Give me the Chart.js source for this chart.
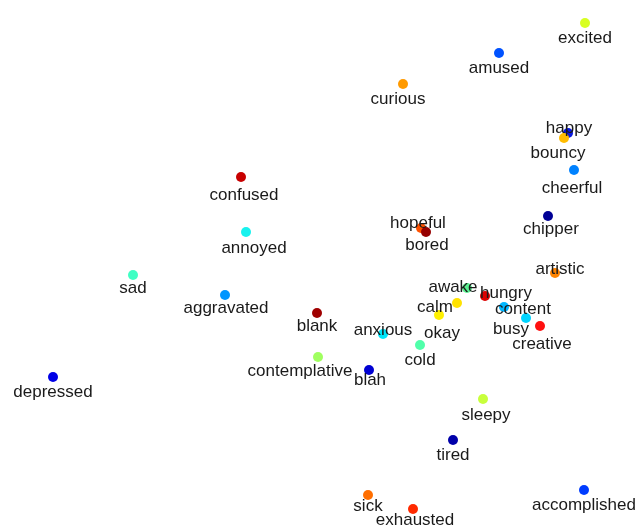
<!DOCTYPE html>
<html>
<head>
<meta charset="utf-8">
<script src="https://cdn.jsdelivr.net/npm/chart.js@4/dist/chart.umd.min.js"></script>
<style>
  html, body { margin: 0; padding: 0; background: #fff; }
  #moodCanvas { display: block; }
</style>
</head>
<body>
<canvas id="moodCanvas" width="639" height="527"></canvas>
<script>
// mood words (2D embedding, arbitrary units)
const moods = [
  'excited', 'amused', 'curious', 'happy', 'bouncy', 'cheerful', 'confused', 'chipper',
  'hopeful', 'bored', 'annoyed', 'artistic', 'sad', 'aggravated', 'awake', 'hungry',
  'calm', 'content', 'blank', 'okay', 'busy', 'creative', 'anxious', 'cold',
  'contemplative', 'blah', 'depressed', 'sleepy', 'tired', 'accomplished', 'sick', 'exhausted'
];
const xValues = [
  2.65, 1.79, 0.83, 2.48, 2.44, 2.54, -0.79, 2.28,
  1.01, 1.06, -0.74, 2.35, -1.87, -0.95, 1.47, 1.65,
  1.37, 1.84, -0.03, 1.19, 2.06, 2.20, 0.63, 1.00,
  -0.02, 0.49, -2.67, 1.63, 1.33, 2.64, 0.48, 0.93
];
const yValues = [
  2.40, 2.10, 1.79, 1.30, 1.25, 0.93, 0.86, 0.47,
  0.35, 0.31, 0.31, -0.10, -0.12, -0.32, -0.25, -0.33,
  -0.40, -0.44, -0.50, -0.52, -0.55, -0.63, -0.71, -0.82,
  -0.94, -1.07, -1.14, -1.36, -1.77, -2.27, -2.32, -2.46
];
// jet-ish colour per word
const moodColors = [
  '#d8ff22', '#0052ff', '#ff9a00', '#0818e0', '#ffbc00', '#0082ff', '#c80000', '#000096',
  '#ff5200', '#960000', '#18f2ee', '#ff8400', '#40ffc4', '#0096ff', '#58f090', '#dc0000',
  '#ffe200', '#00b6ff', '#a00000', '#fff000', '#00d4ff', '#ff1010', '#00e6fa', '#50ffaa',
  '#a0ff60', '#0000d2', '#0000e6', '#c8ff3c', '#0000aa', '#003cff', '#ff6e00', '#ff2a00'
];

const points = xValues.map((x, i) => ({ x: x, y: yValues[i] }));

// label placement: default below the dot, with nudges where words collide
const labelNudge = {
  curious: [-5, 15], happy: [1, -5], bouncy: [-6, 15], cheerful: [-2, 18],
  confused: [3, 18], annoyed: [8, 16], chipper: [3, 13], hopeful: [-3, -5],
  bored: [1, 13], artistic: [5, -4], sad: [0, 13], aggravated: [1, 13],
  blank: [0, 13], anxious: [0, -4], contemplative: [-18, 14], blah: [1, 10],
  awake: [-14, -1], hungry: [21, -3], calm: [-22, 4], content: [19, 2],
  okay: [3, 18], busy: [-15, 11], creative: [2, 18], sleepy: [3, 16],
  sick: [0, 11], exhausted: [2, 11]
};

const wordLabels = {
  id: 'wordLabels',
  afterDatasetsDraw(chart) {
    const ctx = chart.ctx;
    const meta = chart.getDatasetMeta(0);
    ctx.save();
    ctx.font = '17px "Liberation Sans", Arial, sans-serif';
    ctx.fillStyle = '#1a1a1a';
    ctx.textAlign = 'center';
    ctx.textBaseline = 'middle';
    meta.data.forEach((pt, i) => {
      const nudge = labelNudge[moods[i]] || [0, 15];
      ctx.fillText(moods[i], pt.x + nudge[0], pt.y + nudge[1]);
    });
    ctx.restore();
  }
};

new Chart(document.getElementById('moodCanvas'), {
  type: 'scatter',
  data: {
    labels: moods,
    datasets: [{
      data: points,
      pointRadius: 5,
      pointHoverRadius: 5,
      pointBorderWidth: 0,
      pointBackgroundColor: moodColors,
      clip: false
    }]
  },
  options: {
    responsive: false,
    animation: false,
    layout: { padding: 0, autoPadding: false },
    plugins: {
      legend: { display: false },
      tooltip: { enabled: false }
    },
    scales: {
      x: { display: false, min: -3.20, max: 3.19 },
      y: { display: false, min: -2.64, max: 2.63 }
    }
  },
  plugins: [wordLabels]
});
</script>
</body>
</html>
